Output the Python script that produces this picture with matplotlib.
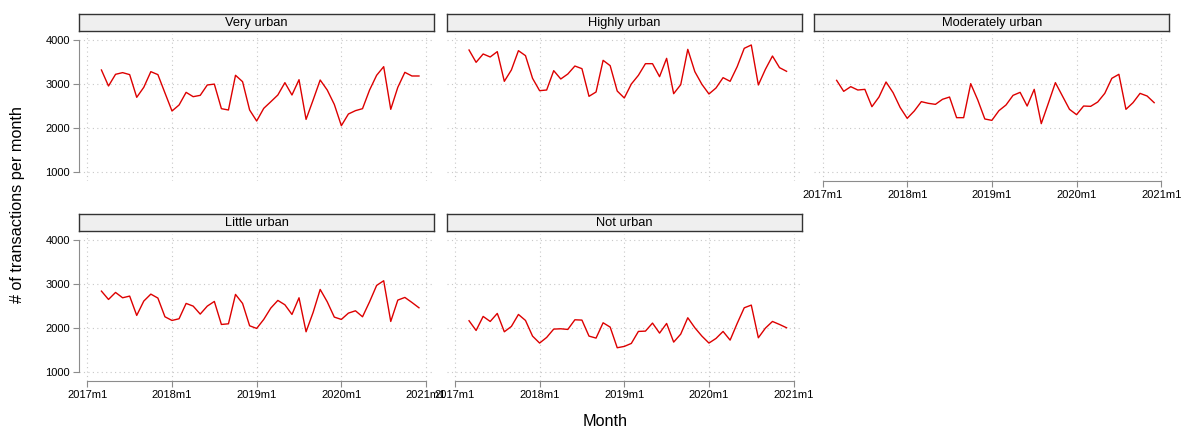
import pandas as pd
import matplotlib
matplotlib.use("Agg")
import matplotlib.pyplot as plt

plt.rcParams['font.family'] = ['Liberation Sans', 'DejaVu Sans']

# monthly transaction counts by degree of urbanisation, 2017m3 - 2020m12
months = pd.period_range('2017-03', '2020-12', freq='M')

very_urban = [3320, 2957, 3222, 3260, 3215, 2700, 2927, 3282, 3215, 2800, 2390, 2526,
              2813, 2715, 2745, 2980, 3000, 2443, 2413, 3200, 3055, 2413, 2163, 2450,
              2600, 2753, 3033, 2753, 3100, 2200, 2640, 3093, 2866, 2540, 2057, 2322,
              2398, 2443, 2866, 3200, 3395, 2428, 2927, 3267, 3184, 3184]
highly_urban = [3773, 3494, 3683, 3615, 3736, 3063, 3320, 3758, 3645, 3131, 2851, 2866,
                3305, 3116, 3229, 3410, 3350, 2723, 2821, 3539, 3418, 2843, 2685, 3002,
                3199, 3463, 3463, 3169, 3584, 2783, 2987, 3788, 3282, 2995, 2776, 2912,
                3146, 3063, 3395, 3811, 3887, 2980, 3335, 3637, 3373, 3290]
moderately_urban = [3085, 2836, 2942, 2866, 2881, 2488, 2707, 3048, 2806, 2470, 2224, 2390,
                    2602, 2564, 2541, 2655, 2707, 2239, 2239, 3010, 2640, 2209, 2178, 2398,
                    2526, 2745, 2813, 2503, 2881, 2103, 2564, 3033, 2730, 2428, 2307, 2503,
                    2496, 2594, 2790, 3131, 3222, 2428, 2579, 2790, 2730, 2579]
little_urban = [2841, 2652, 2811, 2690, 2728, 2290, 2615, 2773, 2683, 2259, 2176, 2214,
                2562, 2501, 2320, 2501, 2607, 2085, 2100, 2766, 2562, 2055, 1995, 2199,
                2456, 2630, 2531, 2312, 2690, 1919, 2358, 2879, 2599, 2252, 2199, 2342,
                2395, 2259, 2599, 2970, 3076, 2153, 2637, 2698, 2584, 2463]
not_urban = [2169, 1949, 2267, 2153, 2335, 1919, 2040, 2312, 2176, 1821, 1663, 1791,
             1980, 1987, 1972, 2191, 2184, 1821, 1776, 2123, 2025, 1557, 1587, 1655,
             1927, 1934, 2116, 1889, 2108, 1685, 1866, 2237, 2010, 1821, 1663, 1768,
             1927, 1730, 2108, 2463, 2524, 1783, 2002, 2153, 2085, 2010]

panels = ['Very urban', 'Highly urban', 'Moderately urban', 'Little urban', 'Not urban']
series = [very_urban, highly_urban, moderately_urban, little_urban, not_urban]

x_ticks = [0, 12, 24, 36, 48]
x_labels = ['2017m1', '2018m1', '2019m1', '2020m1', '2021m1']
y_ticks = [1000, 2000, 3000, 4000]

# months since 2017m1
x = [(m - pd.Period('2017-01', freq='M')).n for m in months]

W, H = 1183, 428
fig = plt.figure(figsize=(W / 100, H / 100), dpi=100)

def fbox(left, top, right, bottom):
    return [left / W, 1 - bottom / H, (right - left) / W, (bottom - top) / H]

axis_grey = '#8c8c8c'

for k, (name, vals) in enumerate(zip(panels, series)):
    r, c = divmod(k, 3)
    left = 79 + c * 367.6
    top = 34 + r * 200

    ax = fig.add_axes(fbox(left, top, left + 355, top + 147))
    ax.plot(x, vals, color='#dd0000', lw=1.0)
    ax.set_xlim(-1.18, 49.13)
    ax.set_ylim(803, 4136)
    ax.set_xticks(x_ticks)
    ax.set_yticks(y_ticks)
    ax.grid(True, ls=(0, (1, 3)), color='#c8c8c8', lw=0.8)
    for s in ['top', 'right']:
        ax.spines[s].set_visible(False)
    ax.tick_params(colors=axis_grey, labelcolor='black', labelsize=8,
                   length=4.5, width=0.8, pad=2)

    if c == 0:
        ax.spines['left'].set_bounds(1000, 4000)
        ax.spines['left'].set_color(axis_grey)
        ax.set_yticklabels([str(t) for t in y_ticks])
    else:
        ax.spines['left'].set_visible(False)
        ax.tick_params(axis='y', length=0, labelleft=False)

    if k >= 2:
        ax.spines['bottom'].set_bounds(0, 48)
        ax.spines['bottom'].set_color(axis_grey)
        ax.set_xticklabels(x_labels)
    else:
        ax.spines['bottom'].set_visible(False)
        ax.tick_params(axis='x', length=0, labelbottom=False)

    # facet header
    sx = fig.add_axes(fbox(left, top - 20, left + 355, top - 3))
    sx.set_facecolor('#efefef')
    sx.set_xticks([])
    sx.set_yticks([])
    for s in sx.spines.values():
        s.set_color('#333333')
        s.set_linewidth(1.0)
    sx.text(0.5, 0.45, name, ha='center', va='center', fontsize=9.3,
            transform=sx.transAxes)

fig.text(18 / W, 1 - 205 / H, '# of transactions per month', rotation=90,
         ha='center', va='center', fontsize=11.7)
fig.text(605 / W, 1 - 421 / H, 'Month', ha='center', va='center', fontsize=11.7)

fig.savefig('out.png', dpi=100, facecolor='white')
